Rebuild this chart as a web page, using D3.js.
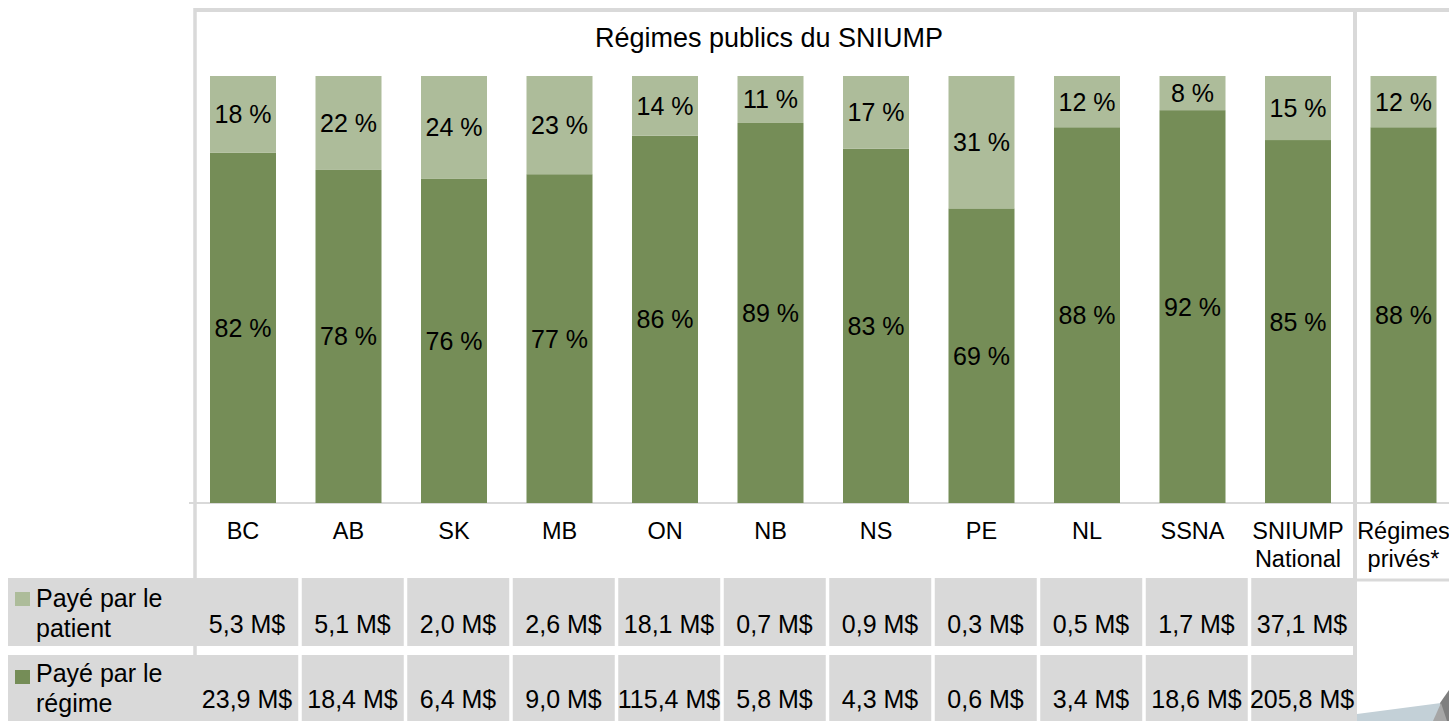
<!DOCTYPE html>
<html>
<head>
<meta charset="utf-8">
<style>
  body { margin: 0; background: #fff; }
  text { font-family: 'Liberation Sans', Arial, sans-serif; fill: #000; }
</style>
</head>
<body>
<svg width="1449" height="721"></svg>
<script src="https://d3js.org/d3.v7.min.js"></script>
<script>

// categories (second line of the label after the |)
var categories = ['BC', 'AB', 'SK', 'MB', 'ON', 'NB', 'NS', 'PE', 'NL', 'SSNA', 'SNIUMP|National', 'Régimes|privés*']

// share of costs, in %
var patientPct = [18, 22, 24, 23, 14, 11, 17, 31, 12, 8, 15, 12]
var regimePct  = [82, 78, 76, 77, 86, 89, 83, 69, 88, 92, 85, 88]

// data table rows (no values for private plans)
var patientAmt = ['5,3 M$', '5,1 M$', '2,0 M$', '2,6 M$', '18,1 M$', '0,7 M$', '0,9 M$', '0,3 M$', '0,5 M$', '1,7 M$', '37,1 M$']
var regimeAmt  = ['23,9 M$', '18,4 M$', '6,4 M$', '9,0 M$', '115,4 M$', '5,8 M$', '4,3 M$', '0,6 M$', '3,4 M$', '18,6 M$', '205,8 M$']

var seriesNames = { patient: 'Payé par le|patient', regime: 'Payé par le|régime' }
var colors = { patient: '#adbc9a', regime: '#758d57' }
var grid = '#d9d9d9'

var svg = d3.select('svg')

var rows = categories.map(function (c, i) {
  return { cat: c, regime: regimePct[i], patient: patientPct[i] }
})

var stack = d3.stack().keys(['regime', 'patient'])
var stacked = stack(rows)

var x = d3.scaleBand()
  .domain(categories)
  .range([190.25, 190.25 + 105.5 * categories.length])
  .paddingInner(0.3744)
  .paddingOuter(0.1872)

var y = d3.scaleLinear().domain([0, 100]).range([503, 76])

function cx(c) { return x(c) + x.bandwidth() / 2 }

// chart frame
var frame = svg.append('g')
frame.append('line').attr('x1', 194).attr('x2', 1449).attr('y1', 10).attr('y2', 10)
  .attr('stroke', grid).attr('stroke-width', 4)
frame.append('line').attr('x1', 1355).attr('x2', 1449).attr('y1', 580).attr('y2', 580)
  .attr('stroke', grid).attr('stroke-width', 3)

// data table
var table = svg.append('g')
var lastCat = categories[categories.length - 2]
var tableRight = cx(lastCat) + 4 + 52.75
var rowDefs = [
  { key: 'patient', y0: 578, y1: 646, vals: patientAmt, base: 633, l1: 607, l2: 637, sw: 592 },
  { key: 'regime', y0: 655, y1: 725, vals: regimeAmt, base: 708, l1: 682, l2: 712, sw: 670 }
]

rowDefs.forEach(function (r) {
  table.append('rect')
    .attr('x', 8).attr('y', r.y0)
    .attr('width', tableRight - 8).attr('height', r.y1 - r.y0)
    .attr('fill', grid)

  // white borders between data columns
  categories.slice(0, 10).forEach(function (c) {
    table.append('rect')
      .attr('x', cx(c) + 4 + 52.75 - 1.5).attr('y', r.y0)
      .attr('width', 3.5).attr('height', r.y1 - r.y0)
      .attr('fill', '#fff')
  })

  table.selectAll(null)
    .data(r.vals)
    .enter().append('text')
    .attr('x', function (d, i) { return cx(categories[i]) + 4 })
    .attr('y', r.base)
    .attr('text-anchor', 'middle')
    .attr('font-size', 25)
    .text(function (d) { return d })

  table.append('rect')
    .attr('x', 15).attr('y', r.sw).attr('width', 15).attr('height', 14)
    .attr('fill', colors[r.key])

  var lines = seriesNames[r.key].split('|')
  table.append('text').attr('x', 36).attr('y', r.l1).attr('font-size', 25).text(lines[0])
  table.append('text').attr('x', 36).attr('y', r.l2).attr('font-size', 25).text(lines[1])
})

// frame verticals run through the table
frame.append('line').attr('x1', 195).attr('x2', 195).attr('y1', 8).attr('y2', 721)
  .attr('stroke', grid).attr('stroke-width', 3.5)
frame.append('line').attr('x1', 1355).attr('x2', 1355).attr('y1', 8).attr('y2', 721)
  .attr('stroke', grid).attr('stroke-width', 4)

// category axis line
svg.append('line').attr('x1', 189).attr('x2', 1449).attr('y1', 503).attr('y2', 503)
  .attr('stroke', grid).attr('stroke-width', 2)

// title
svg.append('text')
  .attr('x', 769).attr('y', 47)
  .attr('text-anchor', 'middle')
  .attr('font-size', 27)
  .text('Régimes publics du SNIUMP')

// bars
var layers = svg.append('g').selectAll('g')
  .data(stacked)
  .enter().append('g')
  .attr('fill', function (d) { return colors[d.key] })

layers.selectAll('rect')
  .data(function (d) { return d })
  .enter().append('rect')
  .attr('x', function (d) { return x(d.data.cat) })
  .attr('y', function (d) { return y(d[1]) })
  .attr('width', x.bandwidth())
  .attr('height', function (d) { return y(d[0]) - y(d[1]) })

// percentage labels
layers.selectAll('text')
  .data(function (d) { return d })
  .enter().append('text')
  .attr('x', function (d) { return cx(d.data.cat) })
  .attr('y', function (d) { return (y(d[0]) + y(d[1])) / 2 + 9 })
  .attr('text-anchor', 'middle')
  .attr('font-size', 25)
  .text(function (d) { return (d[1] - d[0]) + ' %' })

// category labels
var catLabels = svg.append('g').selectAll('text')
  .data(categories)
  .enter().append('text')
  .attr('text-anchor', 'middle')
  .attr('font-size', 23.5)

catLabels.each(function (c) {
  var parts = c.split('|')
  var t = d3.select(this)
  parts.forEach(function (p, i) {
    t.append('tspan').attr('x', cx(c)).attr('y', 539 + i * 28).text(p)
  })
})

// slide decoration, bottom right
var deco = svg.append('g')
deco.append('polygon').attr('points', '1357,714 1441,703 1449,702 1449,721 1357,721').attr('fill', '#c3d0d7')
deco.append('polygon').attr('points', '1440,703 1449,690 1449,721 1446,721').attr('fill', '#7f7f7f')
deco.append('polygon').attr('points', '1433,721 1441,703 1447,721').attr('fill', '#a6a6a6')

</script>
</body>
</html>
